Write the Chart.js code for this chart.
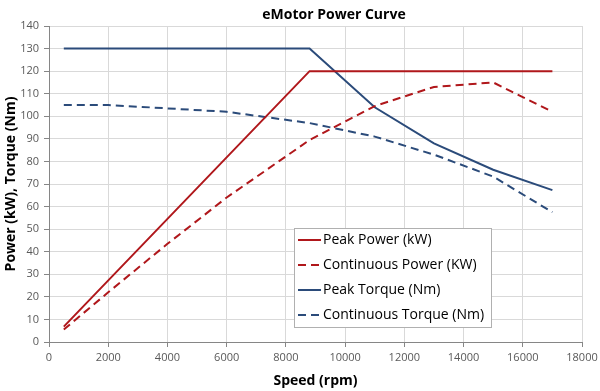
<!DOCTYPE html>
<html>
<head>
<meta charset="utf-8">
<script src="https://cdn.jsdelivr.net/npm/chart.js@4/dist/chart.umd.min.js"></script>
<style>
html,body{margin:0;padding:0;background:#fff;}
#wrap{position:relative;width:600px;height:391px;}
</style>
</head>
<body>
<div id="wrap"><canvas id="c" width="600" height="391"></canvas></div>
<script>
// ---- data ----
const speeds = [500, 2000, 4000, 6000, 8800, 11000, 13000, 15000, 17000];
const peakPower = [6.8, null, null, null, 120, 120, 120, 120, 120];
const contPower = [5.5, 22, 43.5, 64, 89.5, 104.5, 113, 115, 102];
const peakTorque = [130, null, null, null, 130, 104, 88, 76.3, 67.3];
const contTorque = [105, 105, 103.5, 102, 97, 91, 83, 73.3, 57.5];
const seriesNames = ['Peak Power (kW)', 'Continuous Power (KW)', 'Peak Torque (Nm)', 'Continuous Torque (Nm)'];
const chartTitle = 'eMotor Power Curve';
const xTitle = 'Speed (rpm)';
const yTitle = 'Power (kW), Torque (Nm)';

const RED = '#B0171B';
const BLUE = '#2B4B7A';
const FONT = "'Open Sans', 'Liberation Sans', sans-serif";

function pts(vals) {
  const out = [];
  speeds.forEach((s, i) => { if (vals[i] !== null) out.push({x: s, y: vals[i]}); });
  return out;
}

const titlePlugin = {
  id: 'customTitle',
  afterDraw(chart) {
    const ctx = chart.ctx;
    ctx.save();
    ctx.font = "bold 14px " + FONT;
    ctx.fillStyle = '#000';
    ctx.textAlign = 'center';
    ctx.textBaseline = 'middle';
    ctx.fillText(chartTitle, 334, 15);
    ctx.restore();
  }
};

const legendPlugin = {
  id: 'boxLegend',
  afterDraw(chart) {
    const ctx = chart.ctx;
    const bx = 294, by = 228, bw = 197, bh = 99;
    ctx.save();
    ctx.fillStyle = '#fff';
    ctx.fillRect(bx, by, bw, bh);
    ctx.strokeStyle = '#B0B0B0';
    ctx.lineWidth = 1;
    ctx.strokeRect(bx + 0.5, by + 0.5, bw, bh);
    ctx.font = "14px " + FONT;
    ctx.textBaseline = 'middle';
    ctx.textAlign = 'left';
    chart.data.datasets.forEach((ds, i) => {
      const y = 240 + i * 25;
      ctx.strokeStyle = ds.borderColor;
      ctx.lineWidth = 2;
      ctx.setLineDash(ds.borderDash || []);
      ctx.beginPath();
      ctx.moveTo(298, y);
      ctx.lineTo(321, y);
      ctx.stroke();
      ctx.setLineDash([]);
      ctx.fillStyle = '#000';
      ctx.fillText(ds.label, 323, y);
    });
    ctx.restore();
  }
};

new Chart(document.getElementById('c'), {
  type: 'line',
  data: {
    datasets: [
      {label: seriesNames[0], data: pts(peakPower), borderColor: RED, borderWidth: 2, pointRadius: 0, tension: 0},
      {label: seriesNames[1], data: pts(contPower), borderColor: RED, borderWidth: 2, borderDash: [8, 5], pointRadius: 0, tension: 0},
      {label: seriesNames[2], data: pts(peakTorque), borderColor: BLUE, borderWidth: 2, pointRadius: 0, tension: 0},
      {label: seriesNames[3], data: pts(contTorque), borderColor: BLUE, borderWidth: 2, borderDash: [8, 5], pointRadius: 0, tension: 0}
    ]
  },
  options: {
    responsive: false,
    animation: false,
    devicePixelRatio: 1,
    layout: {padding: {top: 26, right: 18, left: 0, bottom: 0}},
    plugins: {legend: {display: false}, title: {display: false}, tooltip: {enabled: false}},
    scales: {
      x: {
        type: 'linear', min: 0, max: 18000,
        ticks: {stepSize: 2000, color: '#595959', font: {size: 11, family: FONT}, padding: 4, maxRotation: 0,
                callback: (v) => String(v)},
        grid: {color: '#D9D9D9', tickLength: 5, tickColor: '#868686'},
        border: {color: '#868686'},
        title: {display: true, text: xTitle, color: '#000', font: {size: 14, weight: 'bold', family: FONT}, padding: {top: 0, bottom: 2}},
        afterFit(s) { s.height = 49; s.paddingRight = 0; s.paddingLeft = 0; }
      },
      y: {
        min: 0, max: 140,
        ticks: {stepSize: 10, color: '#595959', font: {size: 11, family: FONT}, padding: 5},
        grid: {color: '#D9D9D9', tickLength: 5, tickColor: '#868686'},
        border: {color: '#868686'},
        title: {display: true, text: yTitle, color: '#000', font: {size: 14, weight: 'bold', family: FONT}, padding: {top: 3, bottom: 0}},
        afterFit(s) { s.width = 49; s.paddingTop = 0; s.paddingBottom = 0; }
      }
    }
  },
  plugins: [titlePlugin, legendPlugin]
});
</script>
</body>
</html>
